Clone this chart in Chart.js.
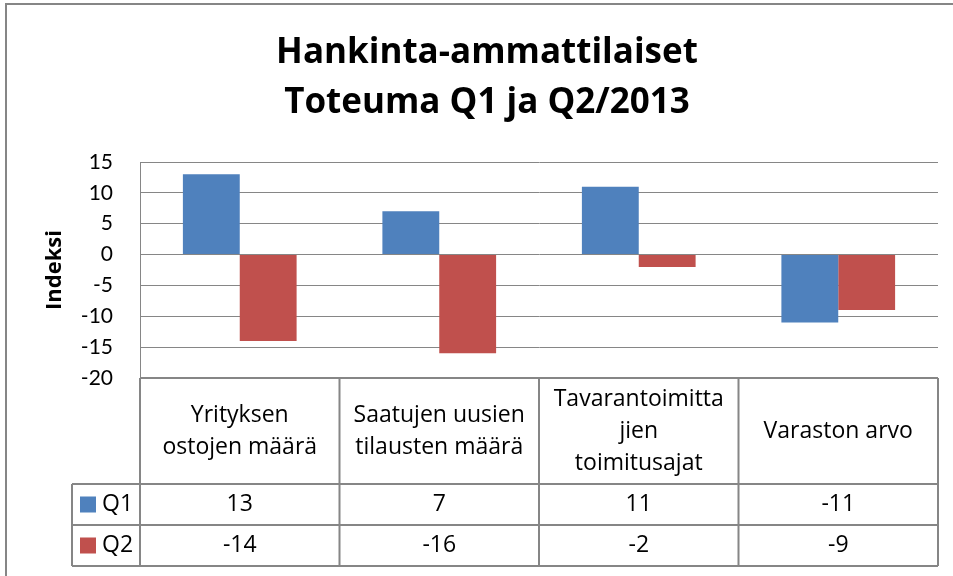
<!DOCTYPE html>
<html>
<head>
<meta charset="utf-8">
<script src="https://cdn.jsdelivr.net/npm/chart.js@4/dist/chart.umd.min.js"></script>
<style>
    body { margin: 0; background: #fff; }
    #wrap { width: 953px; height: 576px; }
</style>
</head>
<body>
<div id="wrap"><canvas id="kpiChart" width="953" height="576"></canvas></div>
<script>
// Data
const categories = [
    ['Yrityksen', 'ostojen määrä'],
    ['Saatujen uusien', 'tilausten määrä'],
    ['Tavarantoimitta', 'jien', 'toimitusajat'],
    ['Varaston arvo']
];
const seriesNames = ['Q1', 'Q2'];
const q1Values = [13, 7, 11, -11];
const q2Values = [-14, -16, -2, -9];
const seriesColors = ['#4F81BD', '#C0504D'];
const titleLines = ['Hankinta-ammattilaiset', 'Toteuma Q1 ja Q2/2013'];

const TICK_FONT = 'Lato, "Open Sans", sans-serif';
const TEXT_FONT = '"Open Sans", Lato, sans-serif';
const LINE = '#868686';

// Outer frame of the chart object
const framePlugin = {
    id: 'frame',
    beforeDraw(chart) {
        const ctx = chart.ctx;
        ctx.save();
        ctx.strokeStyle = LINE;
        ctx.lineWidth = 2;
        ctx.beginPath();
        ctx.moveTo(6, chart.height);
        ctx.lineTo(6, 4);
        ctx.lineTo(chart.width, 4);
        ctx.stroke();
        ctx.restore();
    }
};

// Data table under the plot (Excel style)
const dataTablePlugin = {
    id: 'dataTable',
    afterDraw(chart) {
        const ctx = chart.ctx;
        const x = chart.scales.x;
        const area = chart.chartArea;
        const datasets = chart.data.datasets;
        const headerTop = area.bottom;
        const headerH = 106;
        const rowH = 41;
        const legendLeft = 72;
        const colW = (area.right - area.left) / chart.data.labels.length;

        ctx.save();
        ctx.strokeStyle = LINE;
        ctx.lineWidth = 2;
        const tableBottom = headerTop + headerH + rowH * datasets.length;

        // horizontal lines
        ctx.beginPath();
        ctx.moveTo(area.left, headerTop);
        ctx.lineTo(area.right, headerTop);
        for (let r = 0; r <= datasets.length; r++) {
            const y = headerTop + headerH + rowH * r;
            ctx.moveTo(legendLeft, y);
            ctx.lineTo(area.right, y);
        }
        // vertical lines
        ctx.moveTo(legendLeft, headerTop + headerH);
        ctx.lineTo(legendLeft, tableBottom);
        chart.data.labels.forEach((lab, i) => {
            const left = x.getPixelForValue(i) - colW / 2;
            ctx.moveTo(left, headerTop);
            ctx.lineTo(left, tableBottom);
        });
        ctx.moveTo(area.right, headerTop);
        ctx.lineTo(area.right, tableBottom);
        ctx.stroke();

        ctx.fillStyle = '#000';
        ctx.font = '23px ' + TEXT_FONT;
        ctx.textAlign = 'center';
        ctx.textBaseline = 'middle';

        // category headers
        const headerMid = headerTop + headerH / 2;
        chart.data.labels.forEach((lab, i) => {
            const cx = x.getPixelForValue(i);
            const lines = Array.isArray(lab) ? lab : [lab];
            lines.forEach((t, k) => {
                ctx.fillText(t, cx, headerMid + (k - (lines.length - 1) / 2) * 32);
            });
        });

        // series rows
        datasets.forEach((ds, r) => {
            const cy = headerTop + headerH + rowH * r + rowH / 2;
            ctx.fillStyle = ds.backgroundColor;
            ctx.fillRect(80, cy - 8, 16, 16);
            ctx.fillStyle = '#000';
            ctx.textAlign = 'left';
            ctx.fillText(ds.label, 102, cy);
            ctx.textAlign = 'center';
            ds.data.forEach((v, i) => {
                ctx.fillText(String(v), x.getPixelForValue(i), cy);
            });
        });
        ctx.restore();
    }
};

const ctx = document.getElementById('kpiChart').getContext('2d');
new Chart(ctx, {
    type: 'bar',
    data: {
        labels: categories,
        datasets: [
            {
                label: seriesNames[0],
                data: q1Values,
                backgroundColor: seriesColors[0],
                categoryPercentage: 0.57,
                barPercentage: 1
            },
            {
                label: seriesNames[1],
                data: q2Values,
                backgroundColor: seriesColors[1],
                categoryPercentage: 0.57,
                barPercentage: 1
            }
        ]
    },
    options: {
        responsive: false,
        animation: false,
        layout: {
            padding: { left: 36, right: 15, top: 0, bottom: 198 }
        },
        scales: {
            x: {
                display: false
            },
            y: {
                min: -20,
                max: 15,
                afterFit: function(scale) {
                    scale.width = 104;
                },
                ticks: {
                    stepSize: 5,
                    padding: 27,
                    color: '#000',
                    font: { family: TICK_FONT, size: 21 }
                },
                grid: {
                    color: LINE,
                    lineWidth: 1,
                    drawTicks: false
                },
                border: {
                    display: true,
                    color: LINE,
                    width: 1
                },
                title: {
                    display: true,
                    text: 'Indeksi',
                    color: '#000',
                    padding: { top: 6, bottom: 0 },
                    font: { family: TEXT_FONT, size: 22, weight: 'bold' }
                }
            }
        },
        plugins: {
            legend: { display: false },
            tooltip: { enabled: false },
            title: {
                display: true,
                text: titleLines,
                color: '#000',
                padding: { top: 28, bottom: 34 },
                font: { family: TEXT_FONT, size: 35, weight: 'bold', lineHeight: 50 / 35 }
            }
        }
    },
    plugins: [framePlugin, dataTablePlugin]
});
</script>
</body>
</html>
